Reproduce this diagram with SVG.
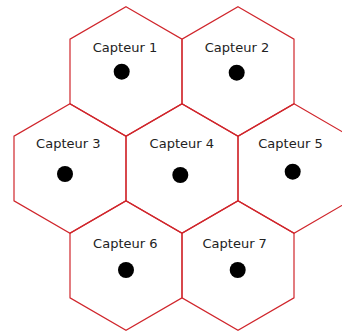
<svg xmlns="http://www.w3.org/2000/svg" xmlns:xlink="http://www.w3.org/1999/xlink" width="342" height="333" viewBox="0 0 342 333">
  <style>
    .hex { fill: none; stroke: #d0262c; stroke-width: 1.2; stroke-linejoin: miter; }
    .lbl { font-family: "DejaVu Sans", "Liberation Sans", sans-serif; font-size: 13px; fill: #222222; text-anchor: middle; }
    .dot { fill: #000000; }
  </style>
  <defs>
    <polygon id="hexshape" points="0,-64.7 56,-32.3 56,32.3 0,64.7 -56,32.3 -56,-32.3"/>
  </defs>
  <rect width="342" height="333" fill="#ffffff"/>
  <g id="capteur1">
    <use xlink:href="#hexshape" href="#hexshape" class="hex" transform="translate(126,71.5)"/>
    <text class="lbl" x="125" y="51.7">Capteur 1</text>
    <circle class="dot" cx="121.7" cy="71.7" r="8"/>
  </g>
  <g id="capteur2">
    <use xlink:href="#hexshape" href="#hexshape" class="hex" transform="translate(238,71.5)"/>
    <text class="lbl" x="237" y="51.7">Capteur 2</text>
    <circle class="dot" cx="236.7" cy="72.7" r="8"/>
  </g>
  <g id="capteur3">
    <use xlink:href="#hexshape" href="#hexshape" class="hex" transform="translate(70,168.5)"/>
    <text class="lbl" x="68.3" y="147.7">Capteur 3</text>
    <circle class="dot" cx="65" cy="174" r="8"/>
  </g>
  <g id="capteur4">
    <use xlink:href="#hexshape" href="#hexshape" class="hex" transform="translate(182,168.5)"/>
    <text class="lbl" x="181.8" y="148">Capteur 4</text>
    <circle class="dot" cx="180.3" cy="175" r="8"/>
  </g>
  <g id="capteur5">
    <use xlink:href="#hexshape" href="#hexshape" class="hex" transform="translate(294,168.5)"/>
    <text class="lbl" x="290.5" y="148">Capteur 5</text>
    <circle class="dot" cx="292.7" cy="171.7" r="8"/>
  </g>
  <g id="capteur6">
    <use xlink:href="#hexshape" href="#hexshape" class="hex" transform="translate(126,265.5)"/>
    <text class="lbl" x="125.3" y="247.7">Capteur 6</text>
    <circle class="dot" cx="126" cy="270" r="8"/>
  </g>
  <g id="capteur7">
    <use xlink:href="#hexshape" href="#hexshape" class="hex" transform="translate(238,265.5)"/>
    <text class="lbl" x="234.7" y="247.7">Capteur 7</text>
    <circle class="dot" cx="237.7" cy="270" r="8"/>
  </g>
  <g id="connectors"></g>
</svg>
